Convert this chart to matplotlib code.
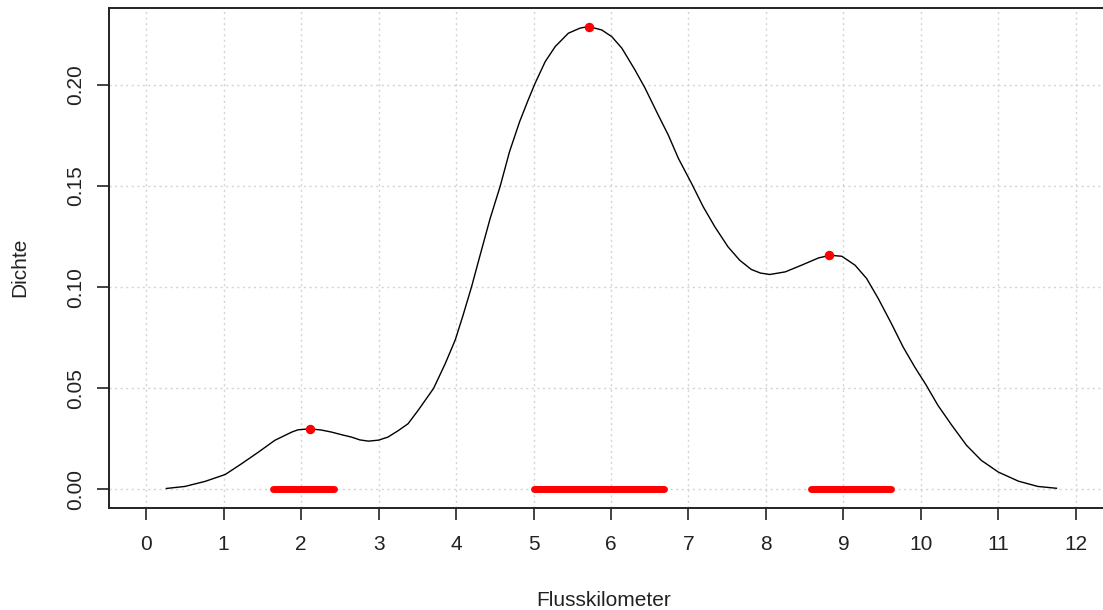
import numpy as np
import matplotlib
matplotlib.use("Agg")
from matplotlib import pyplot as plt

# density curve
km = [0.26, 0.5, 0.76, 1.02, 1.23, 1.45, 1.66, 1.88, 1.96, 2.11, 2.26, 2.39,
      2.52, 2.65, 2.76, 2.87, 3.0, 3.12, 3.25, 3.38, 3.51, 3.6, 3.71, 3.86,
      3.99, 4.09, 4.2, 4.31, 4.44, 4.57, 4.69, 4.82, 4.93, 5.02, 5.15, 5.28,
      5.45, 5.6, 5.71, 5.88, 6.01, 6.14, 6.31, 6.44, 6.61, 6.74, 6.87, 7.04,
      7.19, 7.34, 7.51, 7.66, 7.81, 7.93, 8.05, 8.25, 8.46, 8.68, 8.83, 8.98,
      9.15, 9.3, 9.45, 9.62, 9.77, 9.92, 10.07, 10.22, 10.4, 10.59, 10.78,
      11.0, 11.26, 11.51, 11.75]
dichte = [0.0005, 0.0015, 0.004, 0.0074, 0.0127, 0.0185, 0.0243, 0.0284, 0.0295,
          0.0300, 0.0294, 0.0284, 0.0271, 0.0259, 0.0245, 0.0239, 0.0244, 0.0259,
          0.029, 0.0325, 0.0391, 0.044, 0.050, 0.0622, 0.074, 0.0861, 0.1002,
          0.1158, 0.134, 0.150, 0.167, 0.1818, 0.1925, 0.2008, 0.2115, 0.219,
          0.2256, 0.2281, 0.2289, 0.2272, 0.2239, 0.2182, 0.2074, 0.1984, 0.1851,
          0.1752, 0.1637, 0.1513, 0.1398, 0.1299, 0.12, 0.1134, 0.1088, 0.107,
          0.1063, 0.1076, 0.1109, 0.1145, 0.1158, 0.1153, 0.1109, 0.1043, 0.0944,
          0.082, 0.0705, 0.0606, 0.0515, 0.0416, 0.0317, 0.0218, 0.0144, 0.0086,
          0.0041, 0.0015, 0.0006]

# local maxima
peak_km = [2.11, 5.71, 8.82]
peak_dichte = [0.0300, 0.2289, 0.1158]

# intervals marked on the baseline
interval_start = [1.64, 5.0, 8.58]
interval_end = [2.42, 6.68, 9.62]

x_ticks = list(range(0, 13))
y_ticks = [0.0, 0.05, 0.10, 0.15, 0.20]

plt.rcParams['font.family'] = ['Liberation Sans', 'DejaVu Sans']

fig = plt.figure(figsize=(11.03, 6.10), dpi=100)
ax = fig.add_axes([109 / 1103, 102 / 610, 1004 / 1103, 500 / 610])

ax.set_xlim(-0.48, 12.48)
ax.set_ylim(-0.04 * 0.2289, 1.04 * 0.2289)

for x in x_ticks:
    ax.axvline(x, color='#d3d3d3', linestyle=(0, (1.5, 2.5)), linewidth=1.0, zorder=0)
for y in y_ticks:
    ax.axhline(y, color='#d3d3d3', linestyle=(0, (1.5, 2.5)), linewidth=1.0, zorder=0)

ax.plot(km, dichte, color='black', linewidth=1.0, zorder=2)

for a, b in zip(interval_start, interval_end):
    ax.plot([a, b], [0, 0], color='red', linewidth=5.0, solid_capstyle='round', zorder=3)

ax.plot(peak_km, peak_dichte, 'o', color='red', markersize=5.8, zorder=4)

ax.set_xticks(x_ticks)
ax.set_xticklabels([str(x) for x in x_ticks])
ax.set_yticks(y_ticks)
ax.set_yticklabels(['{:.2f}'.format(y) for y in y_ticks], rotation=90, va='center')

ax.tick_params(axis='both', length=8.6, width=1.2, labelsize=15, colors='#222222')
ax.tick_params(axis='x', pad=11)
ax.tick_params(axis='y', pad=8.6)

for s in ax.spines.values():
    s.set_linewidth(1.4)
    s.set_color('#222222')

fig.text(20 / 1103, 1 - 267 / 610, 'Dichte', rotation=90, ha='center', va='center',
         fontsize=15, color='#222222')
fig.text(604 / 1103, 1 - 600 / 610, 'Flusskilometer', ha='center', va='center',
         fontsize=15, color='#222222')

fig.savefig('out.png', dpi=100)
plt.close()
